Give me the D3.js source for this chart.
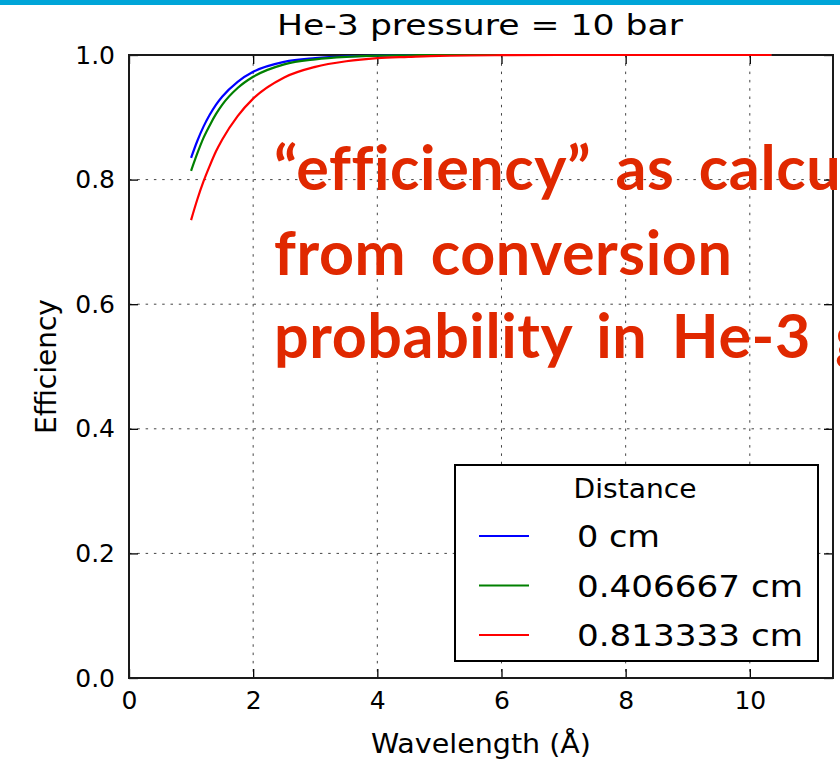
<!DOCTYPE html>
<html><head><meta charset="utf-8">
<script src="https://cdn.jsdelivr.net/npm/d3@7"></script>
<style>
html,body{margin:0;padding:0;background:#fff;overflow:hidden}
svg{display:block}
</style></head><body>
<svg id="chart" width="840" height="764"></svg>
<script>
// ---- data ----
const chartTitle = "He-3 pressure = 10 bar";
const xLabel = "Wavelength (Å)";
const yLabel = "Efficiency";
const xTicks = [0, 2, 4, 6, 8, 10];
const yTicks = [0.0, 0.2, 0.4, 0.6, 0.8, 1.0];
const wavelength = [1.0, 1.1, 1.2, 1.3, 1.4, 1.5, 1.75, 2.0, 2.5, 3.0, 3.5, 4.0, 4.5, 5.0, 6.0, 7.0, 8.0, 9.0, 10.0, 10.35];
const eff0cm   = [0.835, 0.862, 0.885, 0.904, 0.920, 0.933, 0.957, 0.973, 0.989, 0.995, 0.998, 0.999, 1.0, 1.0, 1.0, 1.0, 1.0, 1.0, 1.0, 1.0];
const eff04cm  = [0.814, 0.842, 0.867, 0.887, 0.905, 0.920, 0.947, 0.965, 0.985, 0.993, 0.997, 0.999, 0.9995, 1.0, 1.0, 1.0, 1.0, 1.0, 1.0, 1.0];
const eff08cm  = [0.735, 0.768, 0.797, 0.822, 0.845, 0.864, 0.902, 0.930, 0.964, 0.981, 0.990, 0.995, 0.997, 0.9987, 0.9997, 1.0, 1.0, 1.0, 1.0, 1.0];
const seriesNames = ["0 cm", "0.406667 cm", "0.813333 cm"];
const seriesColors = ["#0000ff", "#008000", "#ff0000"];
const legendTitle = "Distance";
const noteLines = ["\u201Cefficiency\u201D as calculated", "from conversion", "probability in He-3 gas"];

// ---- layout ----
const W = 840, H = 764;
const plot = {left: 129, right: 833, top: 55, bottom: 678};
const svg = d3.select("#chart");
const font = "'DejaVu Sans', sans-serif";

svg.append("rect").attr("x", 0).attr("y", 0).attr("width", W).attr("height", 5).attr("fill", "#00a5d8");

const x = d3.scaleLinear().domain([0, 11.34]).range([plot.left, plot.right]);
const y = d3.scaleLinear().domain([0, 1]).range([plot.bottom, plot.top]);

// grid
const grid = svg.append("g");
grid.selectAll("line.gx").data(xTicks.filter(t => t > 0)).join("line")
  .attr("x1", d => x(d)).attr("x2", d => x(d)).attr("y1", plot.top).attr("y2", plot.bottom)
  .attr("stroke", "#444").attr("stroke-width", 1).attr("stroke-dasharray", "2.5,5.8");
grid.selectAll("line.gy").data(yTicks.filter(t => t > 0 && t < 1)).join("line")
  .attr("y1", d => y(d)).attr("y2", d => y(d)).attr("x1", plot.left).attr("x2", plot.right)
  .attr("stroke", "#444").attr("stroke-width", 1).attr("stroke-dasharray", "2.5,5.8");

// axes
function styleAxis(g) {
  g.select(".domain").remove();
  g.selectAll(".tick line").attr("stroke", "#000").attr("stroke-width", 1.3);
  g.selectAll(".tick text").attr("fill", "#000").style("font-family", font).style("font-size", "25px");
}
svg.append("g").attr("transform", `translate(0,${plot.bottom})`)
  .call(d3.axisBottom(x).tickValues(xTicks).tickSize(-9).tickPadding(13).tickFormat(d3.format("d"))).call(styleAxis);
svg.append("g").attr("transform", `translate(0,${plot.top})`)
  .call(d3.axisTop(x).tickValues(xTicks).tickSize(-9).tickFormat("")).call(styleAxis);
svg.append("g").attr("transform", `translate(${plot.left},0)`)
  .call(d3.axisLeft(y).tickValues(yTicks).tickSize(-9).tickPadding(14).tickFormat(d3.format(".1f"))).call(styleAxis);
svg.append("g").attr("transform", `translate(${plot.right},0)`)
  .call(d3.axisRight(y).tickValues(yTicks).tickSize(-9).tickFormat("")).call(styleAxis);

// spines
svg.append("rect").attr("x", plot.left).attr("y", plot.top)
  .attr("width", plot.right - plot.left).attr("height", plot.bottom - plot.top)
  .attr("fill", "none").attr("stroke", "#1a1a1a").attr("stroke-width", 2);

// lines (drawn above the frame, as in the reference)
const series = [eff0cm, eff04cm, eff08cm];
const line = d3.line().x(d => x(d[0])).y(d => y(d[1])).curve(d3.curveMonotoneX);
series.forEach((vals, i) => {
  svg.append("path").datum(wavelength.map((w, j) => [w, vals[j]]))
    .attr("d", line).attr("fill", "none").attr("stroke", seriesColors[i]).attr("stroke-width", 2.2);
});

// title and labels
const cx = (plot.left + plot.right) / 2;
svg.append("text").attr("x", cx - 1).attr("y", 35).attr("text-anchor", "middle")
  .attr("textLength", 406).attr("lengthAdjust", "spacingAndGlyphs")
  .style("font-family", font).style("font-size", "28px").attr("fill", "#000").text(chartTitle);
svg.append("text").attr("x", cx).attr("y", 753).attr("text-anchor", "middle")
  .attr("textLength", 220).attr("lengthAdjust", "spacingAndGlyphs")
  .style("font-family", font).style("font-size", "26px").attr("fill", "#000").text(xLabel);
svg.append("text").attr("transform", `translate(56,${(plot.top + plot.bottom) / 2}) rotate(-90)`)
  .attr("text-anchor", "middle").style("font-family", font).style("font-size", "28px").attr("fill", "#000").text(yLabel);

// legend
const lg = svg.append("g");
lg.append("rect").attr("x", 455).attr("y", 465).attr("width", 363).attr("height", 196)
  .attr("fill", "#fff").attr("stroke", "#000").attr("stroke-width", 2);
lg.append("text").attr("x", 635).attr("y", 498).attr("text-anchor", "middle")
  .attr("textLength", 123).attr("lengthAdjust", "spacingAndGlyphs")
  .style("font-family", font).style("font-size", "26px").attr("fill", "#000").text(legendTitle);
const labelWidths = [83, 226, 226];
seriesNames.forEach((name, i) => {
  const ly = 536 + i * 49.5;
  lg.append("line").attr("x1", 479).attr("x2", 529).attr("y1", ly).attr("y2", ly)
    .attr("stroke", seriesColors[i]).attr("stroke-width", 2.2);
  lg.append("text").attr("x", 577).attr("y", ly + 11)
    .attr("textLength", labelWidths[i]).attr("lengthAdjust", "spacingAndGlyphs")
    .style("font-family", font).style("font-size", "30px")
    .attr("fill", "#000").text(name);
});

// red overlay note
const note = svg.append("g");
const noteY = [190, 275, 358];
noteLines.forEach((t, i) => {
  note.append("text").attr("x", 274).attr("y", noteY[i])
    .style("font-family", "Lato, sans-serif").style("font-weight", "700").style("font-size", "61px")
    .style("letter-spacing", "0.6px").style("word-spacing", "9px")
    .attr("fill", "#e02800").text(t);
});
</script>
</body></html>
